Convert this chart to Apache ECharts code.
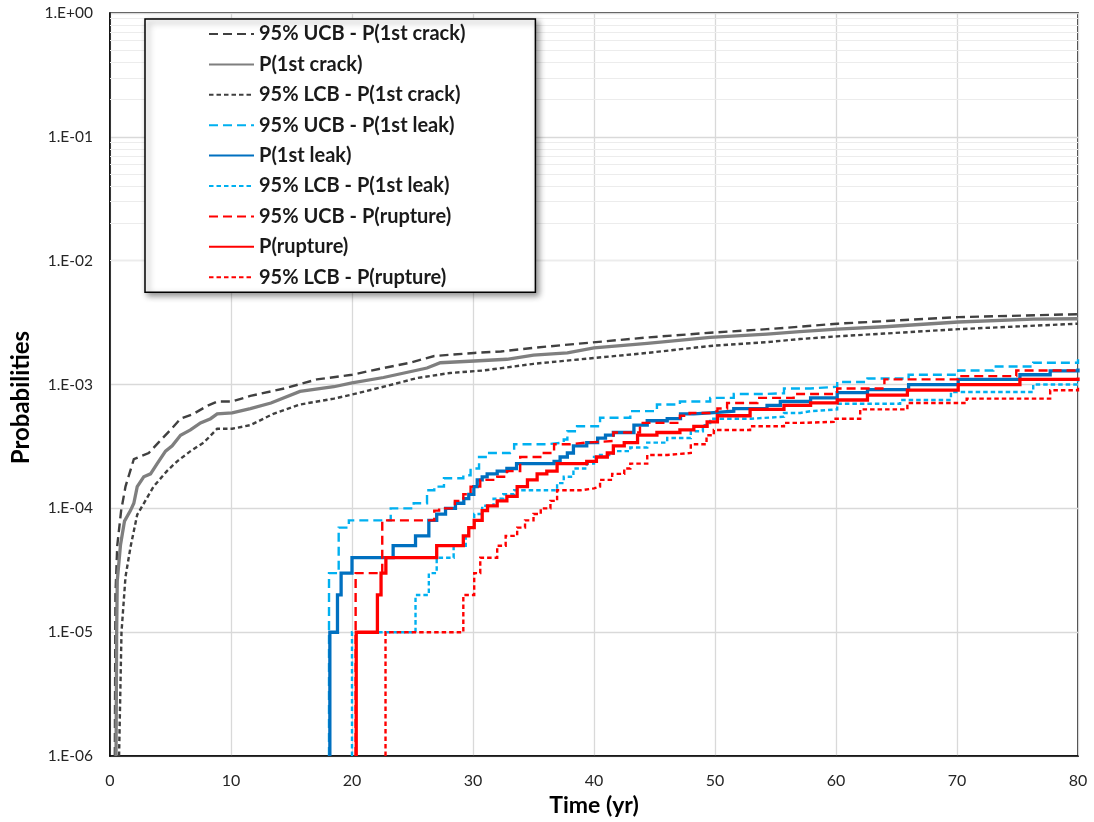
<!DOCTYPE html>
<html>
<head>
<meta charset="utf-8">
<script src="https://cdn.jsdelivr.net/npm/echarts@6/dist/echarts.min.js"></script>
<style>
html,body{margin:0;padding:0;background:#fff;}
#chart{width:1094px;height:822px;}
</style>
</head>
<body>
<div id="chart"></div>
<script>
// ---- data: [time (yr), probability] ----
const xTicks = [0, 10, 20, 30, 40, 50, 60, 70, 80];
const yDecades = [1e-6, 1e-5, 1e-4, 1e-3, 1e-2, 1e-1, 1];

const seriesNames = [
  '95% UCB - P(1st crack)', 'P(1st crack)', '95% LCB - P(1st crack)',
  '95% UCB - P(1st leak)', 'P(1st leak)', '95% LCB - P(1st leak)',
  '95% UCB - P(rupture)', 'P(rupture)', '95% LCB - P(rupture)'
];

const crackUCB = [[0.4,1e-6],[0.45,2e-5],[0.6,5e-5],[0.92,9.6e-5],[1.28,1.5e-4],[1.97,2.5e-4],[3.2,2.8e-4],[4.0,3.4e-4],[5.0,4.3e-4],[5.83,5.3e-4],[6.9,5.8e-4],[8.0,6.7e-4],[8.86,7.3e-4],[10.1,7.3e-4],[11.6,8.1e-4],[14.4,9.3e-4],[17.1,1.1e-3],[20.0,1.2e-3],[22.6,1.36e-3],[24.8,1.5e-3],[26.8,1.7e-3],[30.1,1.8e-3],[32.3,1.85e-3],[35,1.98e-3],[39,2.15e-3],[44.4,2.4e-3],[49.6,2.62e-3],[54.3,2.8e-3],[57,2.93e-3],[60.1,3.1e-3],[70.1,3.5e-3],[80,3.7e-3]];
const crackP = [[0.5,1e-6],[0.55,1e-5],[0.6,2.6e-5],[0.87,5.1e-5],[1.2,7.9e-5],[1.69,9.6e-5],[1.97,1.1e-4],[2.25,1.5e-4],[2.79,1.8e-4],[3.35,1.9e-4],[3.9,2.3e-4],[4.59,2.9e-4],[5.14,3.2e-4],[5.83,3.9e-4],[6.65,4.3e-4],[7.48,4.9e-4],[8.31,5.3e-4],[8.86,5.8e-4],[10.1,5.9e-4],[11.6,6.4e-4],[13.3,7.1e-4],[15.7,8.8e-4],[18.5,9.6e-4],[20.0,1.03e-3],[22.6,1.14e-3],[26.2,1.36e-3],[27.3,1.5e-3],[30.1,1.55e-3],[32.8,1.6e-3],[35.0,1.73e-3],[37.8,1.8e-3],[40.0,1.98e-3],[44.4,2.15e-3],[49.6,2.4e-3],[54.3,2.55e-3],[57,2.67e-3],[60.1,2.8e-3],[64,2.93e-3],[70.1,3.2e-3],[76.3,3.38e-3],[80,3.4e-3]];
const crackLCB = [[0.75,1e-6],[0.95,1e-5],[1.28,2.8e-5],[1.7,4.9e-5],[2.25,8.9e-5],[2.8,1.1e-4],[3.6,1.5e-4],[4.7,2.0e-4],[5.55,2.4e-4],[6.65,2.9e-4],[7.75,3.4e-4],[8.86,4.4e-4],[10.1,4.4e-4],[11.6,4.7e-4],[13.5,5.8e-4],[15.7,6.9e-4],[18.5,7.7e-4],[20,8.3e-4],[22.6,9.6e-4],[25.4,1.13e-3],[28.1,1.24e-3],[30.9,1.3e-3],[35,1.47e-3],[38.9,1.6e-3],[44.4,1.8e-3],[49.6,2.05e-3],[54.3,2.2e-3],[57,2.33e-3],[60.1,2.45e-3],[64,2.58e-3],[70.1,2.8e-3],[80,3.1e-3]];

const leakUCB = [[18.1,1e-6],[18.1,3e-5],[18.9,7e-5],[19.74,8e-5],[23.2,1e-4],[25.1,1.1e-4],[26.2,1.4e-4],[26.8,1.5e-4],[27.6,1.75e-4],[29.2,1.85e-4],[29.8,2.1e-4],[30.5,2.6e-4],[31.2,2.8e-4],[33.1,2.9e-4],[33.4,3.3e-4],[36.1,3.4e-4],[37.5,3.6e-4],[37.8,4.2e-4],[38.6,4.6e-4],[40.5,5.4e-4],[43,6.1e-4],[45.2,6.9e-4],[47.1,7.3e-4],[49.6,7.8e-4],[51.55,8.4e-4],[54.3,8.5e-4],[55.7,9.3e-4],[57.9,9.6e-4],[60.1,1.05e-3],[62.6,1.12e-3],[66,1.2e-3],[70.1,1.3e-3],[73,1.4e-3],[76.3,1.5e-3],[80,1.6e-3]];
const leakP = [[18.17,1e-6],[18.17,1e-5],[18.8,2e-5],[19.1,3e-5],[20.0,4e-5],[23.4,5e-5],[25.25,6e-5],[26.35,8e-5],[27.0,9e-5],[27.73,1e-4],[28.55,1.1e-4],[29.24,1.2e-4],[29.65,1.3e-4],[30.07,1.5e-4],[30.35,1.7e-4],[30.76,1.8e-4],[31.17,1.9e-4],[32.0,2.0e-4],[32.8,2.1e-4],[33.6,2.3e-4],[36.7,2.4e-4],[37.2,2.6e-4],[37.8,2.8e-4],[38.3,3.2e-4],[39.4,3.4e-4],[40.3,3.7e-4],[40.95,3.9e-4],[41.6,4.1e-4],[43.3,4.7e-4],[44.4,5.1e-4],[46.05,5.3e-4],[47.15,5.8e-4],[48.25,5.9e-4],[49.6,6.1e-4],[51.55,6.4e-4],[54.3,6.8e-4],[55.4,7.3e-4],[57.9,7.8e-4],[60.1,8.6e-4],[62.6,9.1e-4],[66,1.0e-3],[70.1,1.1e-3],[75.2,1.2e-3],[77.7,1.29e-3],[80,1.35e-3]];
const leakLCB = [[20.0,1e-6],[20.0,1e-5],[25.25,2e-5],[26.35,3e-5],[27.0,4e-5],[28.4,5e-5],[29.4,6e-5],[29.65,7e-5],[30.1,9e-5],[30.76,1.05e-4],[31.7,1.2e-4],[32.5,1.3e-4],[33.4,1.4e-4],[36.95,1.6e-4],[37.5,1.8e-4],[38.3,2.1e-4],[39.4,2.3e-4],[40.0,2.6e-4],[40.5,2.7e-4],[41.6,2.9e-4],[43,3.1e-4],[44.4,3.4e-4],[46.05,3.7e-4],[48.0,4.2e-4],[49.0,4.7e-4],[49.6,5.3e-4],[53,5.5e-4],[55.7,5.9e-4],[57.05,6.1e-4],[57.9,6.3e-4],[60.1,7.0e-4],[65.3,7.5e-4],[69.5,8.7e-4],[76.3,1.0e-3],[80,1.1e-3]];

const ruptUCB = [[20.3,1e-6],[20.3,3e-5],[22.5,8e-5],[26.8,9.6e-5],[27.2,1e-4],[28.5,1.15e-4],[29.2,1.3e-4],[29.8,1.5e-4],[30.6,1.7e-4],[32,1.8e-4],[32.8,2.0e-4],[33.9,2.6e-4],[35.85,2.8e-4],[36.7,3.3e-4],[38.06,3.4e-4],[39.4,3.5e-4],[41.6,4.1e-4],[43.8,4.9e-4],[47.1,5.6e-4],[47.9,5.9e-4],[49.6,6.1e-4],[50.2,6.4e-4],[51,7.1e-4],[53.5,7.8e-4],[56.5,8.4e-4],[60.1,9.3e-4],[64,1.1e-3],[70.1,1.17e-3],[74.9,1.3e-3],[80,1.36e-3]];
const ruptP = [[20.35,1e-6],[20.35,1e-5],[22.1,2e-5],[22.4,3e-5],[22.8,4e-5],[27.0,5e-5],[29.2,6e-5],[29.65,7e-5],[30.1,8e-5],[30.76,9.6e-5],[31.2,1.05e-4],[32.0,1.15e-4],[32.8,1.25e-4],[33.65,1.5e-4],[34.5,1.7e-4],[35.3,1.9e-4],[36.1,2.0e-4],[36.95,2.3e-4],[39.4,2.4e-4],[40.2,2.6e-4],[41.1,2.8e-4],[41.6,3.2e-4],[42.5,3.4e-4],[43.6,3.9e-4],[45.2,4.1e-4],[47.1,4.3e-4],[48.25,4.6e-4],[49.35,5.0e-4],[50.2,5.6e-4],[52.9,6.3e-4],[55.7,6.8e-4],[57.9,7.1e-4],[60.1,7.5e-4],[62.6,8.2e-4],[65.9,9.0e-4],[70.1,1.0e-3],[75.2,1.1e-3],[80,1.14e-3]];
const ruptLCB = [[22.77,1e-6],[22.77,1e-5],[29.2,2e-5],[30.1,3e-5],[30.6,4e-5],[32.0,5e-5],[32.7,6e-5],[33.65,7e-5],[34.3,8e-5],[35.0,9e-5],[35.6,1e-4],[36.4,1.15e-4],[36.95,1.4e-4],[38.9,1.45e-4],[40,1.5e-4],[40.5,1.7e-4],[41.5,1.9e-4],[42.5,2.1e-4],[43,2.3e-4],[44.4,2.7e-4],[46.05,2.8e-4],[48.0,3.3e-4],[49.3,3.9e-4],[49.9,4.3e-4],[52.9,4.6e-4],[55.7,4.9e-4],[57.05,5.0e-4],[59.8,5.3e-4],[62,6.3e-4],[65.9,7.1e-4],[70.8,7.7e-4],[77.7,9.0e-4],[80,9.5e-4]];

const seriesData = [crackUCB, crackP, crackLCB, leakUCB, leakP, leakLCB, ruptUCB, ruptP, ruptLCB];

// ---- styles ----
const FONT = 'Lato, "Open Sans", sans-serif';
const UCB_DASH = [9, 5];
const LCB_DASH = [4.5, 3];
const styles = [
  {color:'#404040', width:2.4, type:UCB_DASH, step:false},
  {color:'#7f7f7f', width:3.3, type:'solid', step:false},
  {color:'#404040', width:2.4, type:LCB_DASH, step:false},
  {color:'#00b0f0', width:2.4, type:UCB_DASH, step:'end'},
  {color:'#0070c0', width:3.3, type:'solid', step:'end'},
  {color:'#00b0f0', width:2.4, type:LCB_DASH, step:'end'},
  {color:'#ff0000', width:2.4, type:UCB_DASH, step:'end'},
  {color:'#ff0000', width:3.3, type:'solid', step:'end'},
  {color:'#ff0000', width:2.4, type:LCB_DASH, step:'end'}
];

// minor log grid lines (2..9 x each decade)
const minorLines = [];
for (let i = 0; i < yDecades.length - 1; i++) {
  for (let m = 2; m <= 9; m++) minorLines.push({yAxis: yDecades[i] * m});
}

function expLabel(v) {
  const e = Math.round(Math.log10(v));
  const a = Math.abs(e);
  return '1.E' + (e < 0 ? '-' : '+') + (a < 10 ? '0' + a : '' + a);
}

const series = [{
  name: 'minorGrid', type: 'line', data: [], silent: true, z: 1,
  markLine: {
    silent: true, symbol: ['none', 'none'], animation: false, z: 1,
    label: {show: false},
    lineStyle: {color: '#ececec', width: 1, type: 'solid'},
    emphasis: {disabled: true},
    data: minorLines
  }
}];
seriesNames.forEach((n, i) => {
  const s = styles[i];
  series.push({
    name: n, type: 'line', data: seriesData[i],
    step: s.step, showSymbol: false, symbol: 'none',
    z: 3 + i,
    lineStyle: {color: s.color, width: s.width, type: s.type, cap: 'butt', join: 'miter'},
    itemStyle: {color: s.color},
    emphasis: {disabled: true}
  });
});

const chart = echarts.init(document.getElementById('chart'), null, {renderer: 'canvas'});
chart.setOption({
  animation: false,
  backgroundColor: '#ffffff',
  textStyle: {fontFamily: FONT},
  grid: {left: 110, right: 16, top: 13, bottom: 63, show: true, borderColor: '#000', borderWidth: 1.5, backgroundColor: 'transparent'},
  legend: {
    data: seriesNames,
    orient: 'vertical',
    z: 20,
    left: 145, top: 19,
    padding: [5, 70, 5, 63],
    itemWidth: 45, itemHeight: 14, itemGap: 10.4,
    backgroundColor: '#ffffff',
    borderColor: '#000000', borderWidth: 1.5, borderRadius: 0,
    shadowBlur: 6, shadowColor: 'rgba(0,0,0,0.45)', shadowOffsetX: 3, shadowOffsetY: 3,
    itemStyle: {color: 'transparent', borderWidth: 0, opacity: 0},
    textStyle: {fontFamily: FONT, fontSize: 20, fontWeight: 'bold', color: '#1a1a1a', lineHeight: 20},
    selectedMode: false
  },
  xAxis: {
    type: 'value', min: 0, max: 80, interval: 10,
    name: 'Time (yr)', nameLocation: 'middle', nameGap: 25,
    nameTextStyle: {fontFamily: FONT, fontSize: 23, fontWeight: 'bold', color: '#000'},
    axisLine: {show: true, onZero: false, lineStyle: {color: '#000', width: 1.5}},
    axisTick: {show: false},
    axisLabel: {fontFamily: FONT, fontSize: 16, color: '#262626', margin: 17,
      formatter: v => xTicks.includes(v) ? String(v) : ''},
    splitLine: {show: true, lineStyle: {color: '#d9d9d9', width: 1.3}}
  },
  yAxis: {
    type: 'log', logBase: 10, min: 1e-6, max: 1, splitNumber: 6,
    name: 'Probabilities', nameLocation: 'middle', nameGap: 72, nameRotate: 90,
    nameTextStyle: {fontFamily: FONT, fontSize: 24, fontWeight: 'bold', color: '#000', padding: [0, 26, 0, 0]},
    axisLine: {show: true, lineStyle: {color: '#000', width: 1.5}},
    axisTick: {show: false},
    axisLabel: {fontFamily: FONT, fontSize: 15.5, color: '#262626', margin: 17, formatter: expLabel},
    splitLine: {show: true, lineStyle: {color: '#d9d9d9', width: 1.3}},
    minorSplitLine: {show: false}
  },
  tooltip: {show: false},
  series: series
});
</script>
</body>
</html>
